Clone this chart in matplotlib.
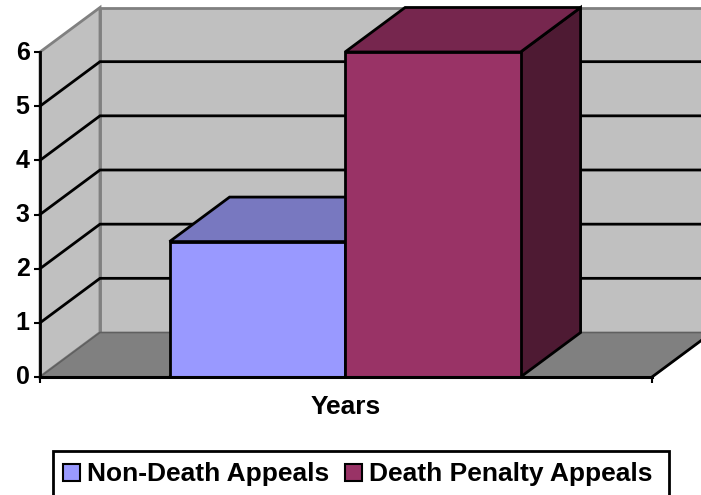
import matplotlib
matplotlib.use('Agg')
import matplotlib.pyplot as plt
from matplotlib.patches import Polygon, Rectangle
from matplotlib.transforms import ScaledTranslation

series = ['Non-Death Appeals', 'Death Penalty Appeals']
values = [2.5, 6]
face = ['#9999FF', '#993366']
top = ['#7878C0', '#76264E']
side = ['#5F5F9F', '#4E1A33']
yticks = [0, 1, 2, 3, 4, 5, 6]
xlabel = 'Years'

W, H = 701, 495
x0, x1 = 40, 652      # front edge of the floor, pixels
y0, y6 = 377, 52
bar_w = 175.5 / (x1 - x0)

plt.rcParams['font.family'] = ['Liberation Sans', 'DejaVu Sans']
fig = plt.figure(figsize=(W / 100, H / 100), dpi=100)
ax = fig.add_axes([x0 / W, 1 - y0 / H, (x1 - x0) / W, (y0 - y6) / H])
ax.set_xlim(0, 1)
ax.set_ylim(0, 6)
ax.patch.set_visible(False)
for s in ax.spines.values():
    s.set_visible(False)

# depth of the fake 3d box, in data units
dx = 60 / (x1 - x0)
dy = 44.5 * 6 / (y0 - y6)
xr = 1.1  # back wall runs off the canvas

grey = '#C0C0C0'
edge = '#808080'


def poly(pts, fc, ec='black', lw=2, z=1):
    p = Polygon(pts, closed=True, fc=fc, ec=ec, lw=lw, zorder=z, clip_on=False, joinstyle='miter')
    ax.add_patch(p)


# walls and floor
poly([(dx, dy), (xr, dy), (xr, 6 + dy), (dx, 6 + dy)], grey, edge, 2, 1)
poly([(0, 0), (dx, dy), (dx, 6 + dy), (0, 6)], grey, edge, 2, 1)
poly([(0, 0), (1, 0), (1 + dx, dy), (dx, dy)], edge, '#606060', 1.2, 1.5)

for t in yticks[1:-1]:
    ax.plot([0, dx, xr], [t, t + dy, t + dy], color='black', lw=2, zorder=2,
            clip_on=False, solid_joinstyle='miter')

# bars
for i, v in enumerate(values):
    l = 0.4985 - bar_w + i * bar_w
    r = l + bar_w
    z = 4 + i
    poly([(l, 0), (r, 0), (r + dx, dy), (r + dx, v + dy), (r, v)], side[i], z=z)
    poly([(l, v), (r, v), (r + dx, v + dy), (l + dx, v + dy)], top[i], z=z)
    poly([(l, 0), (r, 0), (r, v), (l, v)], face[i], z=z)

# front axes
ax.plot([0, 0], [0, 6], color='black', lw=2, zorder=3, clip_on=False)
ax.plot([0, 1], [0, 0], color='black', lw=2.2, zorder=8, clip_on=False)
ax.plot([1, 1 + dx * 0.85], [0, dy * 0.85], color='black', lw=2, zorder=3, clip_on=False)
ax.set_yticks(yticks)
ax.set_xticks([0, 1])
ax.set_xticklabels([])
ax.tick_params(axis='both', width=1.5, length=4.5, color='black', pad=3)
ax.tick_params(axis='y', labelsize=18)
shift = ScaledTranslation(0, 2 / 100, fig.dpi_scale_trans)
for lab in ax.get_yticklabels():
    lab.set_fontweight('bold')
    lab.set_transform(lab.get_transform() + shift)

fig.text(345.5 / W, 1 - 406.5 / H, xlabel, ha='center', va='center', fontsize=19, fontweight='bold')

# legend box, open at the bottom because the canvas cuts it off
fig.add_artist(Rectangle((53.5 / W, -10 / H), 615 / W, (H - 451 + 10) / H, transform=fig.transFigure,
                         fc='white', ec='black', lw=2))
for name, c, sx, tx in zip(series, face, [62.5, 344.5], [87, 369]):
    fig.add_artist(Rectangle((sx / W, 1 - 481 / H), 17.5 / W, 17.5 / H, transform=fig.transFigure,
                             fc=c, ec='black', lw=1.5))
    fig.text(tx / W, 1 - 473.5 / H, name, ha='left', va='center', fontsize=19, fontweight='bold')

fig.savefig('out.png', dpi=100)
